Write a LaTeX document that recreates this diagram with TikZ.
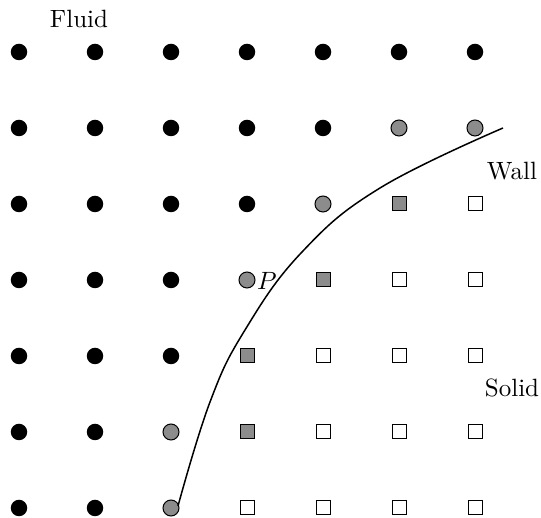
\documentclass[tikz,border=0pt]{standalone}
\begin{document}
\begin{tikzpicture}[x=0.4pt,y=-0.4pt,
  fluid/.style={circle,fill=black,inner sep=0pt,minimum size=6.6pt},
  ghostc/.style={circle,draw=black,line width=0.4pt,fill=black!45,inner sep=0pt,minimum size=6.4pt},
  ghosts/.style={rectangle,draw=black,line width=0.4pt,fill=black!45,inner sep=0pt,minimum size=5.6pt},
  solids/.style={rectangle,draw=black,line width=0.4pt,fill=white,inner sep=0pt,minimum size=5.6pt},
  lbl/.style={inner sep=0pt,font=\normalsize}]
\useasboundingbox (0,0) rectangle (541,518);
% type map: F fluid, G ghost circle, Q ghost square, S solid square
\foreach \r/\types in {0/{F,F,F,F,F,F,F},1/{F,F,F,F,F,G,G},2/{F,F,F,F,G,Q,S},3/{F,F,F,G,Q,S,S},4/{F,F,F,Q,S,S,S},5/{F,F,G,Q,S,S,S},6/{F,F,G,S,S,S,S}}{
  \foreach \t [count=\c from 0] in \types {
    \pgfmathsetmacro{\xx}{19+76*\c}
    \pgfmathsetmacro{\yy}{52+76*\r}
    \if\t F\node[fluid] (n-\r-\c) at (\xx,\yy) {};\fi
    \if\t G\node[ghostc] (n-\r-\c) at (\xx,\yy) {};\fi
    \if\t Q\node[ghosts] (n-\r-\c) at (\xx,\yy) {};\fi
    \if\t S\node[solids] (n-\r-\c) at (\xx,\yy) {};\fi
  }
}
\node[lbl] (fluid) at (79,19) {Fluid};
\node[lbl] (wall) at (512,171) {Wall};
\node[lbl] (solid) at (512,388) {Solid};
\node[lbl] (P) at (267,281) {$P$};
\draw[line width=0.6pt] plot[smooth,tension=0.7] coordinates {(178,506) (210,402) (245,330) (302,252) (380,188) (503,128)};
\end{tikzpicture}
\end{document}
